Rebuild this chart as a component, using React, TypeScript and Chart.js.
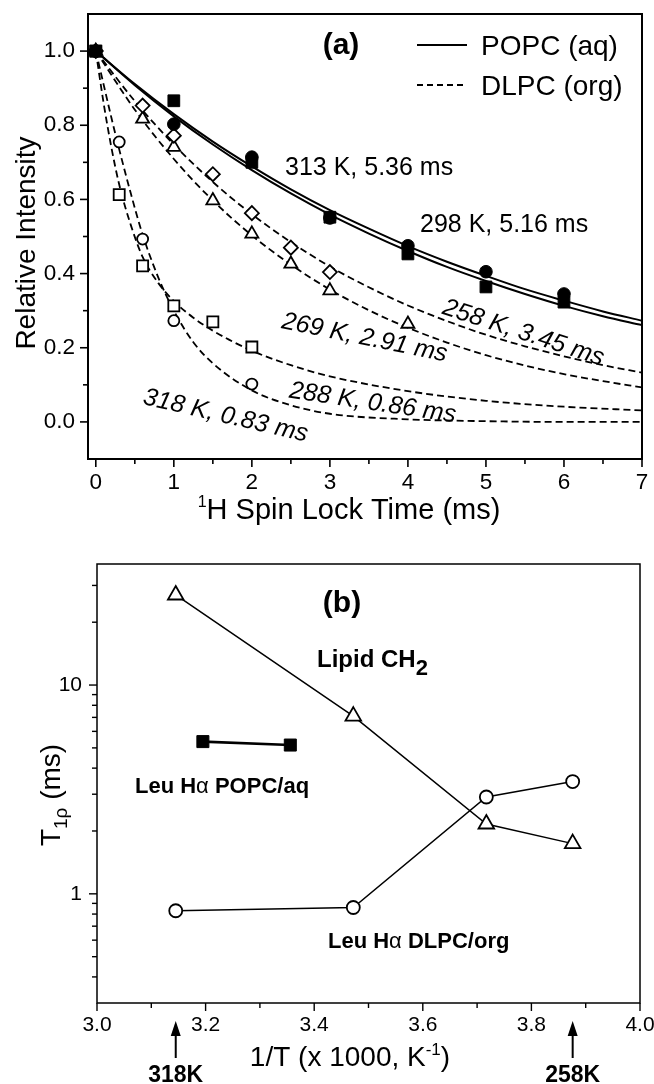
import React, { useEffect, useRef } from 'react';
import { Chart, registerables } from 'chart.js';

Chart.register(...registerables);

const FONT = '"Liberation Sans", Arial, Helvetica, sans-serif';

// ================= Panel (a) data =================
const aXTicks = [0, 1, 2, 3, 4, 5, 6, 7];
const aXMinor = [0.5, 1.5, 2.5, 3.5, 4.5, 5.5, 6.5];
const aYTicks = [0, 0.2, 0.4, 0.6, 0.8, 1.0];
const aYMinor = [0.1, 0.3, 0.5, 0.7, 0.9];

// measured points (spin lock time in ms, relative intensity)
const tPOPC = [0, 1, 2, 3, 4, 5, 6];
const popc313 = [1.0, 0.803, 0.714, 0.55, 0.475, 0.405, 0.345];
const popc298 = [1.0, 0.866, 0.7, 0.552, 0.453, 0.364, 0.323];
const t258 = [0, 0.6, 1, 1.5, 2, 2.5, 3];
const dlpc258 = [1.0, 0.853, 0.772, 0.668, 0.563, 0.47, 0.404];
const t269 = [0, 0.6, 1, 1.5, 2, 2.5, 3, 4];
const dlpc269 = [1.0, 0.817, 0.741, 0.597, 0.507, 0.426, 0.354, 0.264];
const t288 = [0, 0.3, 0.6, 1, 1.5, 2];
const dlpc288 = [1.0, 0.613, 0.421, 0.313, 0.27, 0.202];
const t318 = [0, 0.3, 0.6, 1, 2];
const dlpc318 = [1.0, 0.755, 0.493, 0.273, 0.102];

// fitted curves
const tFitSlow = [0, 0.5, 1, 1.5, 2, 2.5, 3, 3.5, 4, 4.5, 5, 5.5, 6, 6.5, 7];
const fit313 = [1.0, 0.911, 0.83, 0.756, 0.689, 0.627, 0.571, 0.521, 0.474, 0.432, 0.394, 0.358, 0.327, 0.298, 0.273];
const fit298 = [1.0, 0.908, 0.824, 0.748, 0.679, 0.616, 0.559, 0.508, 0.461, 0.418, 0.38, 0.345, 0.313, 0.285, 0.261];
const fit258 = [1.0, 0.865, 0.748, 0.647, 0.56, 0.485, 0.419, 0.363, 0.314, 0.272, 0.235, 0.204, 0.177, 0.153, 0.133];
const fit269 = [1.0, 0.842, 0.709, 0.597, 0.503, 0.424, 0.357, 0.301, 0.254, 0.214, 0.18, 0.152, 0.129, 0.11, 0.093];
const tFitFast = [0, 0.1, 0.2, 0.3, 0.45, 0.6, 0.8, 1.0, 1.25, 1.5, 2, 2.5, 3, 4, 5, 6, 7];
const fit288 = [1.0, 0.86, 0.74, 0.64, 0.53, 0.445, 0.375, 0.326, 0.281, 0.246, 0.192, 0.153, 0.123, 0.083, 0.057, 0.041, 0.031];
const fit318 = [1.0, 0.91, 0.82, 0.735, 0.615, 0.505, 0.39, 0.3, 0.215, 0.158, 0.085, 0.045, 0.022, 0.007, 0.002, 0.0, 0.0];

// ================= Panel (b) data =================
const bXTicks = [3.0, 3.2, 3.4, 3.6, 3.8, 4.0];
const bXMinor = [3.1, 3.3, 3.5, 3.7, 3.9];
const bYTicks = [1, 10];
const bYMinor = [0.4, 0.5, 0.6, 0.7, 0.8, 0.9, 2, 3, 4, 5, 6, 7, 8, 9, 20, 30];

const bInvT = [3.145, 3.472, 3.717, 3.876];
const lipidCH2 = [27.0, 7.1, 2.16, 1.74];
const leuDLPC = [0.83, 0.86, 2.91, 3.45];
const bInvTPopc = [3.195, 3.356];
const leuPOPC = [5.36, 5.16];

const arrowLabels = ['318K', '258K'];
const arrowInvT = [3.145, 3.876];

// ================= helpers =================
type Run = { t: string; size: number; bold?: boolean; italic?: boolean; dy?: number };
type TextItem = { runs: Run[]; x: number; y: number; align?: 'left' | 'center'; angle?: number };

const fontOf = (r: Run) =>
  `${r.italic ? 'italic ' : ''}${r.bold ? 'bold ' : ''}${r.size}px ${FONT}`;

function drawRich(ctx: CanvasRenderingContext2D, item: TextItem) {
  ctx.save();
  ctx.translate(item.x, item.y);
  if (item.angle) ctx.rotate((item.angle * Math.PI) / 180);
  let w = 0;
  let maxSize = 0;
  for (const r of item.runs) {
    ctx.font = fontOf(r);
    w += ctx.measureText(r.t).width;
    maxSize = Math.max(maxSize, r.size);
  }
  let x = item.align === 'left' ? 0 : -w / 2;
  const base = 0.36 * maxSize;
  ctx.textAlign = 'left';
  ctx.textBaseline = 'alphabetic';
  ctx.fillStyle = '#000';
  for (const r of item.runs) {
    ctx.font = fontOf(r);
    ctx.fillText(r.t, x, base + (r.dy ?? 0));
    x += ctx.measureText(r.t).width;
  }
  ctx.restore();
}

function line(ctx: CanvasRenderingContext2D, x1: number, y1: number, x2: number, y2: number) {
  ctx.beginPath();
  ctx.moveTo(x1, y1);
  ctx.lineTo(x2, y2);
  ctx.stroke();
}

type Frame = {
  border: number;
  tick: number;
  xMajor: number[];
  xMinor: number[];
  yMajor: number[];
  yMinor: number[];
  majorLen: number;
  minorLen: number;
};

function drawFrame(chart: any, f: Frame) {
  const { ctx, chartArea: a } = chart;
  const xs = chart.scales.x;
  const ys = chart.scales.y;
  ctx.save();
  ctx.strokeStyle = '#000';
  ctx.setLineDash([]);
  ctx.lineWidth = f.tick;
  for (const v of f.xMajor) {
    const p = xs.getPixelForValue(v);
    line(ctx, p, a.bottom, p, a.bottom + f.majorLen);
  }
  for (const v of f.xMinor) {
    const p = xs.getPixelForValue(v);
    line(ctx, p, a.bottom, p, a.bottom + f.minorLen);
  }
  for (const v of f.yMajor) {
    const p = ys.getPixelForValue(v);
    line(ctx, a.left, p, a.left - f.majorLen, p);
  }
  for (const v of f.yMinor) {
    const p = ys.getPixelForValue(v);
    line(ctx, a.left, p, a.left - f.minorLen, p);
  }
  ctx.lineWidth = f.border;
  ctx.strokeRect(a.left, a.top, a.right - a.left, a.bottom - a.top);
  ctx.restore();
}

const pts = (xs: number[], ys: number[]) => xs.map((x, i) => ({ x, y: ys[i] }));

function marker(xs: number[], ys: number[], style: string, r: number, filled: boolean, order: number, bw = 1.8) {
  return {
    data: pts(xs, ys),
    showLine: false,
    pointStyle: style,
    pointRadius: r,
    pointBackgroundColor: filled ? '#000' : '#fff',
    pointBorderColor: '#000',
    pointBorderWidth: filled ? 1 : bw,
    order,
    clip: false as any,
  };
}

function curve(xs: number[], ys: number[], dashed: boolean) {
  return {
    data: pts(xs, ys),
    showLine: true,
    pointRadius: 0,
    borderColor: '#000',
    borderWidth: dashed ? 1.8 : 2,
    borderDash: dashed ? [7, 4] : [],
    cubicInterpolationMode: 'monotone',
    fill: false,
    order: 3,
  };
}

const commonPlugins = {
  legend: { display: false },
  tooltip: { enabled: false },
};

// ================= Panel (a) =================
const ANN_A: TextItem[] = [
  { runs: [{ t: '(a)', size: 30, bold: true }], x: 341, y: 43 },
  { runs: [{ t: 'POPC (aq)', size: 28 }], x: 481, y: 45, align: 'left' },
  { runs: [{ t: 'DLPC (org)', size: 28 }], x: 481, y: 85, align: 'left' },
  { runs: [{ t: '313 K, 5.36 ms', size: 25 }], x: 285, y: 166, align: 'left' },
  { runs: [{ t: '298 K, 5.16 ms', size: 25 }], x: 420, y: 223, align: 'left' },
  { runs: [{ t: '258 K, 3.45 ms', size: 25, italic: true }], x: 524, y: 331, angle: 18 },
  { runs: [{ t: '269 K, 2.91 ms', size: 25, italic: true }], x: 365, y: 336, angle: 11.5 },
  { runs: [{ t: '288 K, 0.86 ms', size: 25, italic: true }], x: 373, y: 401, angle: 8.5 },
  { runs: [{ t: '318 K, 0.83 ms', size: 25, italic: true }], x: 226, y: 414, angle: 13 },
  { runs: [{ t: 'Relative Intensity', size: 28 }], x: 25, y: 243, angle: -90 },
  { runs: [{ t: '1', size: 16, dy: -12 }, { t: 'H Spin Lock Time (ms)', size: 29 }], x: 349, y: 509 },
];

const decorA = {
  id: 'decorA',
  afterDraw(chart: any) {
    const ctx = chart.ctx as CanvasRenderingContext2D;
    drawFrame(chart, {
      border: 2, tick: 1.6, xMajor: aXTicks, xMinor: aXMinor, yMajor: aYTicks, yMinor: aYMinor,
      majorLen: 8, minorLen: 5,
    });
    ctx.save();
    ctx.strokeStyle = '#000';
    ctx.lineWidth = 2;
    line(ctx, 417, 45, 467, 45);
    ctx.lineWidth = 1.8;
    ctx.setLineDash([6, 4]);
    line(ctx, 417, 85, 467, 85);
    ctx.restore();
    for (const it of ANN_A) drawRich(ctx, it);
  },
};

function makeChartA(canvas: HTMLCanvasElement) {
  return new Chart(canvas, {
    type: 'scatter',
    data: {
      datasets: [
        marker(tPOPC, popc313, 'circle', 6.3, true, 0),
        marker(tPOPC, popc298, 'rect', 8.3, true, 0),
        marker(t258, dlpc258, 'rectRot', 7, false, 1),
        marker(t269, dlpc269, 'triangle', 7.5, false, 1),
        marker(t288, dlpc288, 'rect', 7.8, false, 1),
        marker(t318, dlpc318, 'circle', 5.5, false, 1),
        curve(tFitSlow, fit313, false),
        curve(tFitSlow, fit298, false),
        curve(tFitSlow, fit258, true),
        curve(tFitSlow, fit269, true),
        curve(tFitFast, fit288, true),
        curve(tFitFast, fit318, true),
      ] as any,
    },
    options: {
      responsive: false,
      animation: false,
      devicePixelRatio: 1,
      events: [],
      layout: { padding: { left: 0, right: 12, top: 14, bottom: 0 } },
      plugins: commonPlugins as any,
      scales: {
        x: {
          type: 'linear',
          min: -0.1,
          max: 7,
          grid: { display: false, drawTicks: false },
          border: { display: false },
          ticks: {
            color: '#000', font: { family: FONT, size: 22.5 }, padding: 10.5, autoSkip: false, maxRotation: 0,
            callback: (v: any) => String(Math.round(Number(v))),
          },
          afterBuildTicks: (s: any) => { s.ticks = aXTicks.map((v) => ({ value: v })); },
          afterFit: (s: any) => { s.height = 81; s.paddingLeft = 0; s.paddingRight = 0; },
        },
        y: {
          type: 'linear',
          min: -0.1,
          max: 1.1,
          grid: { display: false, drawTicks: false },
          border: { display: false },
          ticks: {
            color: '#000', font: { family: FONT, size: 22.5 }, padding: 13, autoSkip: false,
            callback: (v: any) => Number(v).toFixed(1),
          },
          afterBuildTicks: (s: any) => { s.ticks = aYTicks.map((v) => ({ value: v })); },
          afterFit: (s: any) => { s.width = 88; s.paddingTop = 0; s.paddingBottom = 0; },
        },
      },
    } as any,
    plugins: [decorA],
  });
}

// ================= Panel (b) =================
const ANN_B: TextItem[] = [
  { runs: [{ t: '(b)', size: 30, bold: true }], x: 342, y: 61 },
  { runs: [{ t: 'Lipid CH', size: 24, bold: true }, { t: '2', size: 22, bold: true, dy: 8 }], x: 317, y: 118, align: 'left' },
  { runs: [{ t: 'Leu H', size: 22, bold: true }, { t: 'α', size: 22 }, { t: ' POPC/aq', size: 22, bold: true }], x: 135, y: 245, align: 'left' },
  { runs: [{ t: 'Leu H', size: 22, bold: true }, { t: 'α', size: 22 }, { t: ' DLPC/org', size: 22, bold: true }], x: 328, y: 400, align: 'left' },
  { runs: [{ t: 'T', size: 28 }, { t: '1ρ', size: 19, dy: 7 }, { t: ' (ms)', size: 28 }], x: 50, y: 255, angle: -90 },
  { runs: [{ t: '1/T (x 1000, K', size: 28 }, { t: '-1', size: 17, dy: -11 }, { t: ')', size: 28 }], x: 350, y: 516 },
];

const decorB = {
  id: 'decorB',
  afterDraw(chart: any) {
    const ctx = chart.ctx as CanvasRenderingContext2D;
    drawFrame(chart, {
      border: 1.5, tick: 1.4, xMajor: bXTicks, xMinor: bXMinor, yMajor: bYTicks, yMinor: bYMinor,
      majorLen: 8, minorLen: 5,
    });
    for (const it of ANN_B) drawRich(ctx, it);
    // temperature arrows under the axis
    const xs = chart.scales.x;
    ctx.save();
    ctx.strokeStyle = '#000';
    ctx.fillStyle = '#000';
    ctx.lineWidth = 2;
    arrowInvT.forEach((v, i) => {
      const px = xs.getPixelForValue(v);
      line(ctx, px, 518, px, 490);
      ctx.beginPath();
      ctx.moveTo(px, 481);
      ctx.lineTo(px - 5, 496);
      ctx.lineTo(px + 5, 496);
      ctx.closePath();
      ctx.fill();
      drawRich(ctx, { runs: [{ t: arrowLabels[i], size: 23, bold: true }], x: px, y: 534 });
    });
    ctx.restore();
  },
};

function makeChartB(canvas: HTMLCanvasElement) {
  const series = (xs: number[], ys: number[], style: string, r: number, filled: boolean, lw: number) => ({
    data: pts(xs, ys),
    showLine: true,
    borderColor: '#000',
    borderWidth: lw,
    pointStyle: style,
    pointRadius: r,
    pointBackgroundColor: filled ? '#000' : '#fff',
    pointBorderColor: '#000',
    pointBorderWidth: filled ? 1 : 1.8,
    tension: 0,
    clip: false as any,
  });
  return new Chart(canvas, {
    type: 'scatter',
    data: {
      datasets: [
        series(bInvT, lipidCH2, 'triangle', 9, false, 1.5),
        series(bInvT, leuDLPC, 'circle', 6.5, false, 1.5),
        series(bInvTPopc, leuPOPC, 'rect', 8.5, true, 2.6),
      ] as any,
    },
    options: {
      responsive: false,
      animation: false,
      devicePixelRatio: 1,
      events: [],
      layout: { padding: { left: 0, right: 14, top: 24, bottom: 0 } },
      plugins: commonPlugins as any,
      scales: {
        x: {
          type: 'linear',
          min: 3.0,
          max: 4.0,
          grid: { display: false, drawTicks: false },
          border: { display: false },
          ticks: {
            color: '#000', font: { family: FONT, size: 21 }, padding: 9.5, autoSkip: false, maxRotation: 0,
            callback: (v: any) => Number(v).toFixed(1),
          },
          afterBuildTicks: (s: any) => { s.ticks = bXTicks.map((v) => ({ value: v })); },
          afterFit: (s: any) => { s.height = 81; s.paddingLeft = 0; s.paddingRight = 0; },
        },
        y: {
          type: 'logarithmic',
          min: 0.34,
          max: 38,
          grid: { display: false, drawTicks: false },
          border: { display: false },
          ticks: {
            color: '#000', font: { family: FONT, size: 21 }, padding: 15, autoSkip: false,
            callback: (v: any) => String(v),
          },
          afterBuildTicks: (s: any) => { s.ticks = bYTicks.map((v) => ({ value: v })); },
          afterFit: (s: any) => { s.width = 97; s.paddingTop = 0; s.paddingBottom = 0; },
        },
      },
    } as any,
    plugins: [decorB],
  });
}

export default function App() {
  const refA = useRef<HTMLCanvasElement>(null);
  const refB = useRef<HTMLCanvasElement>(null);
  useEffect(() => {
    const a = makeChartA(refA.current!);
    const b = makeChartB(refB.current!);
    return () => {
      a.destroy();
      b.destroy();
    };
  }, []);
  return (
    <div style={{ position: 'absolute', left: 0, top: 0, width: 654, height: 1084, background: '#fff', overflow: 'hidden' }}>
      <canvas ref={refA} width={654} height={540} style={{ display: 'block', width: 654, height: 540 }} />
      <canvas ref={refB} width={654} height={544} style={{ display: 'block', width: 654, height: 544 }} />
    </div>
  );
}
